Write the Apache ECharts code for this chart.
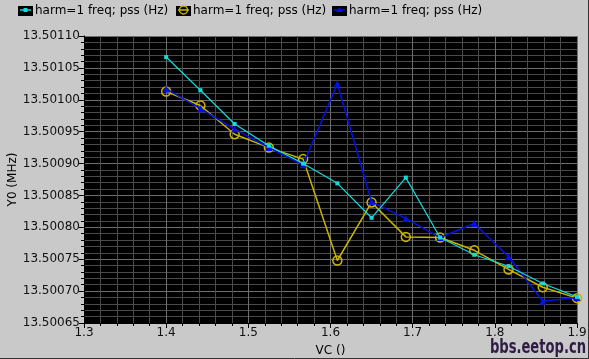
<!DOCTYPE html>
<html><head><meta charset="utf-8">
<script src="https://cdn.jsdelivr.net/npm/echarts@6/dist/echarts.min.js"></script>
<style>html,body{margin:0;padding:0;background:#c9c9c9}#c{width:589px;height:359px}</style>
</head><body><div id="c"></div>
<script>
// Data (VC in volts, Y0 in MHz)
const vc = [1.4, 1.441667, 1.483333, 1.525, 1.566667, 1.608333, 1.65, 1.691667, 1.733333, 1.775, 1.816667, 1.858333, 1.9];
const seriesCyan   = [13.501067, 13.501015, 13.500962, 13.500928, 13.500900, 13.500869, 13.500815, 13.500878, 13.500784, 13.500757, 13.500739, 13.500712, 13.500691];
const seriesYellow = [13.501013, 13.500991, 13.500946, 13.500925, 13.500907, 13.500748, 13.500839, 13.500785, 13.500784, 13.500764, 13.500734, 13.500706, 13.500689];
const seriesBlue   = [13.501017, 13.500986, 13.500954, 13.500925, 13.500898, 13.501025, 13.500840, 13.500814, 13.500784, 13.500806, 13.500754, 13.500684, 13.500690];
const legendLabel = 'harm=1 freq; pss (Hz)';
const xTicks = [1.3, 1.4, 1.5, 1.6, 1.7, 1.8, 1.9];
const yTicks = [13.50065, 13.50070, 13.50075, 13.50080, 13.50085, 13.50090, 13.50095, 13.50100, 13.50105, 13.50110];

const pair = a => vc.map((x, i) => [x, a[i]]);
const colors = {cyan: '#10dcdc', yellow: '#c8b400', blue: '#0010e8'};
const font = 'DejaVu Sans';

const chart = echarts.init(document.getElementById('c'), null, {renderer: 'canvas'});
function legendCfg(left, name) {
  return {
    left: left, top: 5, padding: 0, itemWidth: 15, itemHeight: 10, icon: 'rect',
    data: [{name: name, itemStyle: {color: '#000', borderWidth: 0}}],
    formatter: () => legendLabel, selectedMode: false,
    textStyle: {fontFamily: font, fontSize: 12, color: '#000', padding: [0, 0, 0, -3]}
  };
}
function legendMark(x, color, symbol) {
  return {type: 'group', children: [
    {type: 'line', shape: {x1: x + 2, y1: 10, x2: x + 13, y2: 10}, style: {stroke: color, lineWidth: 1.5}, z: 100},
    symbol === 'circle'
      ? {type: 'circle', shape: {cx: x + 7.5, cy: 10, r: 4}, style: {stroke: color, fill: 'none', lineWidth: 1.5}, z: 101}
      : symbol === 'rect'
      ? {type: 'rect', shape: {x: x + 5.5, y: 8, width: 4, height: 4}, style: {fill: color}, z: 101}
      : {type: 'polygon', shape: {points: [[x + 7.5, 7], [x + 11, 12], [x + 4, 12]]}, style: {fill: color}, z: 101}
  ]};
}
const option = {
  backgroundColor: '#c9c9c9',
  animation: false,
  legend: [legendCfg(18, 'c'), legendCfg(176, 'y'), legendCfg(332, 'b')],
  grid: {left: 84, right: 12, top: 36, bottom: 36, show: true, backgroundColor: '#000', borderWidth: 0,
         containLabel: false, outerBoundsMode: 'none'},
  xAxis: {
    type: 'value', min: 1.3, max: 1.9, interval: 0.1,
    name: 'VC ()', nameLocation: 'middle', nameGap: 22, nameMoveOverlap: false,
    nameTextStyle: {fontFamily: font, fontSize: 12, color: '#000'},
    axisLine: {show: true, lineStyle: {color: '#000', width: 1}},
    axisTick: {show: true, length: 5, lineStyle: {color: '#000'}},
    minorTick: {show: true, splitNumber: 5, length: 3, lineStyle: {color: '#000'}},
    axisLabel: {fontFamily: font, fontSize: 12, color: '#111', margin: 4, formatter: v => v.toFixed(1)},
    splitLine: {show: true, lineStyle: {color: '#6e6e6e', width: 1}},
    minorSplitLine: {show: true, lineStyle: {color: '#4a4a4a', width: 1}}
  },
  yAxis: {
    type: 'value', min: 13.50065, max: 13.50110, interval: 0.00005,
    name: 'Y0 (MHz)', nameLocation: 'middle', nameGap: 65, nameRotate: 90, nameMoveOverlap: false,
    nameTextStyle: {fontFamily: font, fontSize: 12, color: '#000'},
    axisLine: {show: true, lineStyle: {color: '#000', width: 1}},
    axisTick: {show: true, length: 5, lineStyle: {color: '#000'}},
    minorTick: {show: true, splitNumber: 5, length: 3, lineStyle: {color: '#000'}},
    axisLabel: {fontFamily: font, fontSize: 12, color: '#111', margin: 4, formatter: v => v.toFixed(5)},
    splitLine: {show: true, lineStyle: {color: '#6e6e6e', width: 1}},
    minorSplitLine: {show: true, lineStyle: {color: '#4a4a4a', width: 1}}
  },
  series: [
    {name: 'y', type: 'line', data: pair(seriesYellow), color: colors.yellow, z: 3,
     symbol: 'circle', symbolSize: 9, lineStyle: {width: 1.5, color: colors.yellow},
     itemStyle: {color: 'rgba(0,0,0,0)', borderColor: colors.yellow, borderWidth: 1.5}},
    {name: 'b', type: 'line', data: pair(seriesBlue), color: colors.blue, z: 4,
     symbol: 'triangle', symbolSize: 7, lineStyle: {width: 1.5, color: colors.blue},
     itemStyle: {color: colors.blue}},
    {name: 'c', type: 'line', data: pair(seriesCyan), color: colors.cyan, z: 5,
     symbol: 'rect', symbolSize: 4, lineStyle: {width: 1.2, color: colors.cyan},
     itemStyle: {color: colors.cyan}}
  ],
  graphic: [
    legendMark(18, colors.cyan, 'rect'),
    legendMark(176, colors.yellow, 'circle'),
    legendMark(332, colors.blue, 'tri'),
    {type: 'group', x: 586, y: 358, scaleX: 0.69, z: 100, children: [
      {type: 'text', x: 0, y: 0, style: {text: 'bbs.eetop.cn', fill: '#2e1c46', align: 'right', verticalAlign: 'bottom',
        font: 'bold 19px "DejaVu Sans", sans-serif'}}
    ]},
    {type: 'line', shape: {x1: 0, y1: 358.5, x2: 589, y2: 358.5}, style: {stroke: '#333', lineWidth: 1}},
    {type: 'line', shape: {x1: 588.5, y1: 0, x2: 588.5, y2: 359}, style: {stroke: '#333', lineWidth: 1}}
  ]
};
chart.setOption(option);
</script></body></html>
